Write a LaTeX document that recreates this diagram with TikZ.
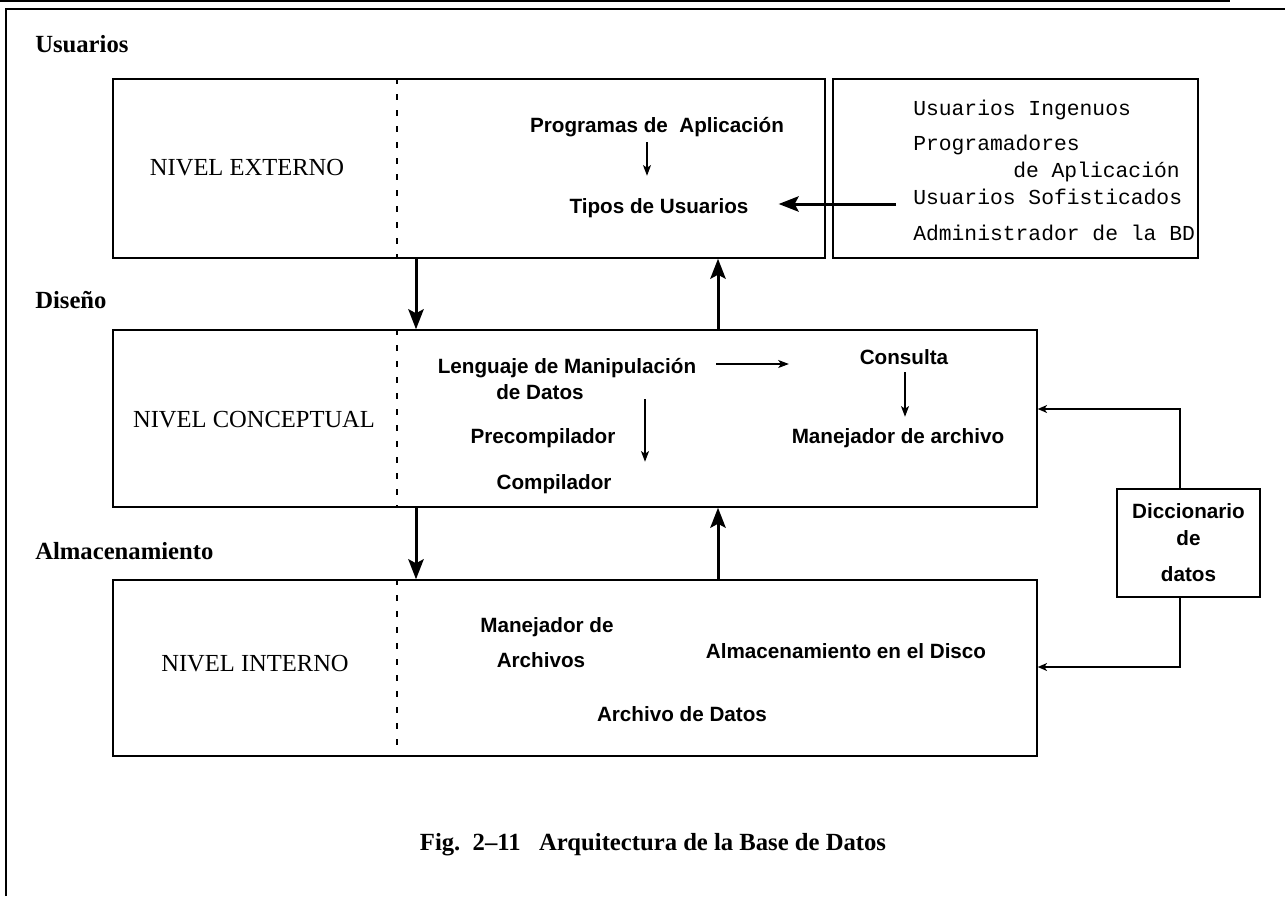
\documentclass[tikz,border=0pt]{standalone}
\usepackage{fontspec}
\setmainfont{Liberation Serif}
\setsansfont{Liberation Sans}
\setmonofont{Liberation Mono}
\usetikzlibrary{arrows.meta,fit}
\tikzset{
  caja/.style={draw,line width=1.1pt,inner sep=0pt},
  corte/.style={line width=0.8pt,dash pattern=on 4.5pt off 7.5pt},
  etiqueta/.style={anchor=base west,inner sep=0pt,font=\fontsize{18.5}{22}\selectfont\bfseries},
  nivel/.style={anchor=base,inner sep=0pt,font=\fontsize{18.4}{22}\selectfont},
  texto/.style={anchor=base,inner sep=0pt,text height=12pt,text depth=3.5pt,font=\fontsize{15.5}{18}\selectfont\sffamily\bfseries},
  tipo/.style={anchor=base west,inner sep=0pt,font=\fontsize{16}{19}\selectfont\ttfamily},
  grueso/.style={line width=2.25pt,-{Stealth[length=15pt,width=11.5pt,inset=3pt]}},
  fino/.style={line width=0.8pt,-{Stealth[length=8pt,width=6pt,inset=2pt]}},
  enlace/.style={line width=1.1pt,-{Stealth[length=7pt,width=6pt,inset=2pt]}}
}
\begin{document}
\begin{tikzpicture}[x=0.75pt,y=-0.75pt]
  \useasboundingbox (0,0) rectangle (1285,896);
  %% marco
  \draw[line width=1.5pt] (0,1) -- (1230,1);
  \draw[line width=1.2pt] (6,896) -- (6,9) -- (1285,9);
  %% cajas
  \node (ext) [caja,fit={(113,79) (825,258)}] {};
  \node (usu) [caja,fit={(833,79) (1198,258)}] {};
  \node (con) [caja,fit={(113,330) (1037,507)}] {};
  \node (int) [caja,fit={(113,580) (1037,756)}] {};
  \node (dicc) [caja,minimum width=107.25pt,minimum height=81pt,align=center,
    font=\fontsize{15.5}{20.25}\selectfont\sffamily\bfseries] at (1188.5,543) {Diccionario\\de\\[6.75pt]datos};
  %
  \coordinate (xa) at (416,0);
  \coordinate (xb) at (718,0);
  \coordinate (xc) at (397,0);
  \coordinate (pa) at (647,0);
  \coordinate (pc) at (645,0);
  \coordinate (pd) at (905,0);
  \coordinate (dc1) at (1180,409);
  \coordinate (dc2) at (1180,667);
  %
  \draw[corte] (ext.north -| xc) -- (ext.south -| xc);
  \draw[corte] (con.north -| xc) -- (con.south -| xc);
  \draw[corte] (int.north -| xc) -- (int.south -| xc);
  %% etiquetas
  \node (lusu) [etiqueta] at (35,52) {Usuarios};
  \node (ldis) [etiqueta] at (35,308) {Diseño};
  \node (lalm) [etiqueta] at (35,559) {Almacenamiento};
  \node (next) [nivel] at (247,175) {NIVEL EXTERNO};
  \node (ncon) [nivel] at (254,427) {NIVEL CONCEPTUAL};
  \node (nint) [nivel] at (255,671) {NIVEL INTERNO};
  %% nivel externo
  \node (prog) [texto] at (657,132) {Programas de \ Aplicación};
  \node (tipos) [texto] at (659,213) {Tipos de Usuarios};
  \node (ing) [tipo] at (913,115) {Usuarios Ingenuos};
  \node (pro) [tipo] at (913,150) {Programadores};
  \node (apl) [tipo] at (1013,177) {de Aplicación};
  \node (sofis) [tipo] at (913,204) {Usuarios Sofisticados};
  \node (adm) [tipo] at (913,240) {Administrador de la BD};
  %% nivel conceptual
  \node (leng) [texto] at (567,373) {Lenguaje de Manipulación};
  \node (datos) [texto] at (540,399) {de Datos};
  \node (cons) [texto] at (904,364) {Consulta};
  \node (man) [texto] at (898,443) {Manejador de archivo};
  \node (prec) [texto] at (543,443) {Precompilador};
  \node (comp) [texto] at (554,489) {Compilador};
  %% nivel interno
  \node (mane) [texto] at (547,632) {Manejador de};
  \node (arch) [texto] at (541,667) {Archivos};
  \node (disco) [texto] at (846,658) {Almacenamiento en el Disco};
  \node (adat) [texto] at (682,721) {Archivo de Datos};
  \node (fig) [anchor=base,inner sep=0pt,font=\fontsize{18.5}{22}\selectfont\bfseries] at (653,850)
    {Fig.\ \ 2--11\ \ \ Arquitectura de la Base de Datos};
  %% flechas
  \draw[grueso] (ext.south -| xa) -- (con.north -| xa);
  \draw[grueso] (con.north -| xb) -- (ext.south -| xb);
  \draw[grueso] (con.south -| xa) -- (int.north -| xa);
  \draw[grueso] (int.north -| xb) -- (con.south -| xb);
  \draw[grueso,shorten <=12.75pt,shorten >=22.5pt] (sofis.base west) -- (tipos.east |- sofis.base west);
  \draw[fino,shorten <=4pt,shorten >=15.75pt] (prog.south -| pa) -- (tipos.north -| pa);
  \draw[fino,shorten <=15pt,shorten >=53pt] (leng.east |- cons.base) -- (cons.base west);
  \draw[fino,shorten <=16pt,shorten >=8.25pt] (leng.south -| pc) -- (comp.north -| pc);
  \draw[fino,shorten <=2.5pt,shorten >=7.5pt] (cons.south -| pd) -- (man.north -| pd);
  \draw[enlace] (dicc.north -| dc1) |- (con.east |- dc1);
  \draw[enlace] (dicc.south -| dc2) |- (int.east |- dc2);
  %
\end{tikzpicture}
\end{document}
